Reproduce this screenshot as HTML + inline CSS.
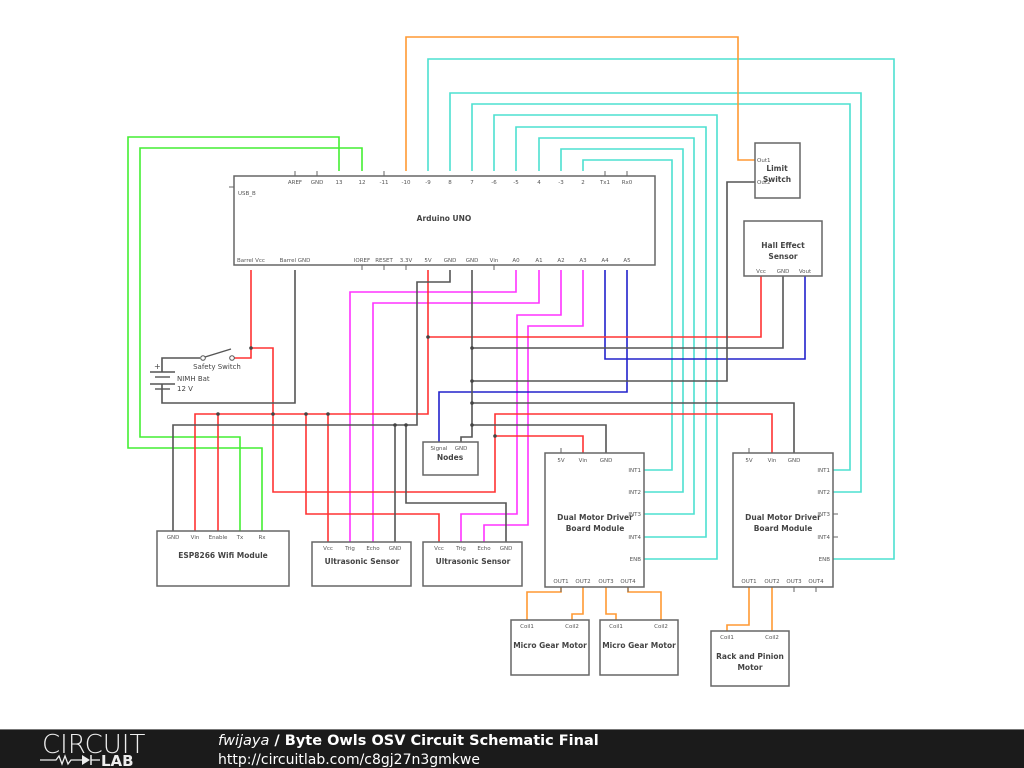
<!DOCTYPE html>
<html><head><meta charset="utf-8"><style>
html,body{margin:0;padding:0;background:#fff;}
svg{display:block}
text{font-family:"DejaVu Sans","Liberation Sans",sans-serif;}
.p{font-size:5.5px;fill:#555;text-anchor:middle}
.t{font-size:7.5px;font-weight:bold;fill:#444;text-anchor:middle}
.b{fill:none;stroke:#666;stroke-width:1.5}
.g{fill:none;stroke:#555;stroke-width:1.6}
.r{fill:none;stroke:#f33;stroke-width:1.6}
.m{fill:none;stroke:#f3f;stroke-width:1.6}
.c{fill:none;stroke:#4de0d0;stroke-width:1.6}
.gr{fill:none;stroke:#4e3;stroke-width:1.6}
.bl{fill:none;stroke:#22c;stroke-width:1.6}
.o{fill:none;stroke:#f93;stroke-width:1.6}
</style></head><body>
<svg width="1024" height="768" viewBox="0 0 1024 768" xmlns="http://www.w3.org/2000/svg">
<rect width="1024" height="768" fill="#fff"/>
<polyline class="c" points="428,171 428,59 894,59 894,559 833,559"/>
<polyline class="c" points="450,171 450,93 861,93 861,492 833,492"/>
<polyline class="c" points="472,171 472,104 850,104 850,470 833,470"/>
<polyline class="c" points="494,171 494,115 717,115 717,559 644,559"/>
<polyline class="c" points="516,171 516,127 706,127 706,537 644,537"/>
<polyline class="c" points="539,171 539,138 694,138 694,514 644,514"/>
<polyline class="c" points="561,171 561,149 683,149 683,492 644,492"/>
<polyline class="c" points="583,171 583,160 672,160 672,470 644,470"/>
<polyline class="o" points="406,171 406,37 738,37 738,160 755,160"/>
<polyline class="o" points="561,587 561,592 527,592 527,620"/>
<polyline class="o" points="583,587 583,614 572,614 572,620"/>
<polyline class="o" points="606,587 606,614 616,614 616,620"/>
<polyline class="o" points="628,587 628,592 661,592 661,620"/>
<polyline class="o" points="749,587 749,625 727,625 727,631"/>
<polyline class="o" points="772,587 772,631"/>
<polyline class="gr" points="339,171 339,137 128,137 128,448 262,448 262,531"/>
<polyline class="gr" points="362,171 362,148 140,148 140,437 240,437 240,531"/>
<polyline class="m" points="516,270 516,292 350,292 350,542"/>
<polyline class="m" points="539,270 539,303 373,303 373,542"/>
<polyline class="m" points="561,270 561,315 517,315 517,514 461,514 461,542"/>
<polyline class="m" points="583,270 583,326 528,326 528,525 484,525 484,542"/>
<polyline class="bl" points="605,270 605,359 805,359 805,276"/>
<polyline class="bl" points="627,270 627,392 439,392 439,442"/>
<polyline class="r" points="251,270 251,358 234,358"/>
<polyline class="r" points="251,348 273,348 273,492 495,492 495,414 772,414 772,453"/>
<polyline class="r" points="495,436 583,436 583,453"/>
<polyline class="r" points="428,270 428,414 195,414 195,531"/>
<polyline class="r" points="218,414 218,531"/>
<polyline class="r" points="328,414 328,542"/>
<polyline class="r" points="306,414 306,514 439,514 439,542"/>
<polyline class="r" points="428,337 761,337 761,276"/>
<polyline class="g" points="295,270 295,403 162,403 162,384"/>
<polyline class="g" points="162,372 162,358 200,358"/>
<polyline class="g" points="450,270 450,282 417,282 417,425 173,425 173,531"/>
<polyline class="g" points="395,425 395,542"/>
<polyline class="g" points="406,425 406,503 506,503 506,542"/>
<polyline class="g" points="472,270 472,437 461,437 461,442"/>
<polyline class="g" points="472,348 783,348 783,276"/>
<polyline class="g" points="472,381 727,381 727,182 755,182"/>
<polyline class="g" points="472,403 794,403 794,453"/>
<polyline class="g" points="472,425 606,425 606,453"/>
<g fill="#444">
<circle cx="251" cy="348" r="1.8"/><circle cx="218" cy="414" r="1.8"/><circle cx="306" cy="414" r="1.8"/><circle cx="328" cy="414" r="1.8"/>
<circle cx="273" cy="414" r="1.8"/><circle cx="395" cy="425" r="1.8"/><circle cx="406" cy="425" r="1.8"/><circle cx="428" cy="337" r="1.8"/>
<circle cx="472" cy="348" r="1.8"/><circle cx="472" cy="381" r="1.8"/><circle cx="472" cy="403" r="1.8"/><circle cx="472" cy="425" r="1.8"/>
<circle cx="495" cy="436" r="1.8"/>
</g>
<g stroke="#555" stroke-width="1.4">
<line x1="150" y1="372" x2="175" y2="372"/><line x1="155" y1="377" x2="170" y2="377"/>
<line x1="150" y1="384" x2="175" y2="384"/><line x1="155" y1="389" x2="170" y2="389"/>
<line x1="205" y1="357" x2="231" y2="349"/>
</g>
<circle cx="203" cy="358" r="2.3" fill="#fff" stroke="#555"/><circle cx="232" cy="358" r="2.3" fill="#fff" stroke="#555"/>
<text x="154" y="369" style="font-size:8px;fill:#444">+</text>
<text x="217" y="369" class="t" style="font-weight:normal;font-size:7px">Safety Switch</text>
<text x="177" y="381" style="font-size:7px;fill:#444">NIMH Bat</text>
<text x="177" y="391" style="font-size:7px;fill:#444">12 V</text>
<rect x="234" y="176" width="421" height="89" class="b" fill="#fff"/>
<line x1="229" y1="187" x2="234" y2="187" stroke="#666"/>
<text x="238" y="195" class="p" style="text-anchor:start">USB_B</text>
<text x="444" y="221" class="t">Arduino UNO</text>
<g stroke="#666">
<line x1="295" y1="171" x2="295" y2="176"/><line x1="317" y1="171" x2="317" y2="176"/><line x1="384" y1="171" x2="384" y2="176"/><line x1="605" y1="171" x2="605" y2="176"/><line x1="627" y1="171" x2="627" y2="176"/>
<line x1="362" y1="265" x2="362" y2="270"/><line x1="384" y1="265" x2="384" y2="270"/><line x1="406" y1="265" x2="406" y2="270"/><line x1="494" y1="265" x2="494" y2="270"/>
</g>
<g class="p">
<text x="295" y="184">AREF</text><text x="317" y="184">GND</text><text x="339" y="184">13</text><text x="362" y="184">12</text><text x="384" y="184">-11</text><text x="406" y="184">-10</text><text x="428" y="184">-9</text><text x="450" y="184">8</text><text x="472" y="184">7</text><text x="494" y="184">-6</text><text x="516" y="184">-5</text><text x="539" y="184">4</text><text x="561" y="184">-3</text><text x="583" y="184">2</text><text x="605" y="184">Tx1</text><text x="627" y="184">Rx0</text>
<text x="251" y="262">Barrel Vcc</text><text x="295" y="262">Barrel GND</text><text x="362" y="262">IOREF</text><text x="384" y="262">RESET</text><text x="406" y="262">3.3V</text><text x="428" y="262">5V</text><text x="450" y="262">GND</text><text x="472" y="262">GND</text><text x="494" y="262">Vin</text><text x="516" y="262">A0</text><text x="539" y="262">A1</text><text x="561" y="262">A2</text><text x="583" y="262">A3</text><text x="605" y="262">A4</text><text x="627" y="262">A5</text>
</g>
<rect x="755" y="143" width="45" height="55" class="b" fill="#fff"/>
<text x="757" y="162" class="p" style="text-anchor:start">Out1</text><text x="757" y="184" class="p" style="text-anchor:start">Out2</text>
<text x="777" y="171" class="t">Limit</text><text x="777" y="182" class="t">Switch</text>
<rect x="744" y="221" width="78" height="55" class="b" fill="#fff"/>
<text x="783" y="248" class="t">Hall Effect</text><text x="783" y="259" class="t">Sensor</text>
<text x="761" y="273" class="p">Vcc</text><text x="783" y="273" class="p">GND</text><text x="805" y="273" class="p">Vout</text>
<rect x="157" y="531" width="132" height="55" class="b" fill="#fff"/>
<g class="p"><text x="173" y="539">GND</text><text x="195" y="539">Vin</text><text x="218" y="539">Enable</text><text x="240" y="539">Tx</text><text x="262" y="539">Rx</text></g>
<text x="223" y="558" class="t">ESP8266 Wifi Module</text>
<rect x="312" y="542" width="99" height="44" class="b" fill="#fff"/>
<g class="p"><text x="328" y="550">Vcc</text><text x="350" y="550">Trig</text><text x="373" y="550">Echo</text><text x="395" y="550">GND</text></g>
<text x="362" y="564" class="t">Ultrasonic Sensor</text>
<rect x="423" y="542" width="99" height="44" class="b" fill="#fff"/>
<g class="p"><text x="439" y="550">Vcc</text><text x="461" y="550">Trig</text><text x="484" y="550">Echo</text><text x="506" y="550">GND</text></g>
<text x="473" y="564" class="t">Ultrasonic Sensor</text>
<rect x="423" y="442" width="55" height="33" class="b" fill="#fff"/>
<text x="439" y="450" class="p">Signal</text><text x="461" y="450" class="p">GND</text>
<text x="450" y="460" class="t">Nodes</text>
<rect x="545" y="453" width="99" height="134" class="b" fill="#fff"/>
<g stroke="#666"><line x1="561" y1="448" x2="561" y2="453"/><line x1="561" y1="587" x2="561" y2="592"/><line x1="628" y1="587" x2="628" y2="592"/></g>
<g class="p"><text x="561" y="462">5V</text><text x="583" y="462">Vin</text><text x="606" y="462">GND</text>
<text x="641" y="472" style="text-anchor:end">INT1</text><text x="641" y="494" style="text-anchor:end">INT2</text><text x="641" y="516" style="text-anchor:end">INT3</text><text x="641" y="539" style="text-anchor:end">INT4</text><text x="641" y="561" style="text-anchor:end">ENB</text>
<text x="561" y="583">OUT1</text><text x="583" y="583">OUT2</text><text x="606" y="583">OUT3</text><text x="628" y="583">OUT4</text></g>
<text x="595" y="520" class="t">Dual Motor Driver</text><text x="595" y="531" class="t">Board Module</text>
<rect x="733" y="453" width="100" height="134" class="b" fill="#fff"/>
<g stroke="#666"><line x1="749" y1="448" x2="749" y2="453"/><line x1="833" y1="514" x2="838" y2="514"/><line x1="833" y1="537" x2="838" y2="537"/><line x1="794" y1="587" x2="794" y2="592"/><line x1="816" y1="587" x2="816" y2="592"/></g>
<g class="p"><text x="749" y="462">5V</text><text x="772" y="462">Vin</text><text x="794" y="462">GND</text>
<text x="830" y="472" style="text-anchor:end">INT1</text><text x="830" y="494" style="text-anchor:end">INT2</text><text x="830" y="516" style="text-anchor:end">INT3</text><text x="830" y="539" style="text-anchor:end">INT4</text><text x="830" y="561" style="text-anchor:end">ENB</text>
<text x="749" y="583">OUT1</text><text x="772" y="583">OUT2</text><text x="794" y="583">OUT3</text><text x="816" y="583">OUT4</text></g>
<text x="783" y="520" class="t">Dual Motor Driver</text><text x="783" y="531" class="t">Board Module</text>
<rect x="511" y="620" width="78" height="55" class="b" fill="#fff"/>
<text x="527" y="628" class="p">Coil1</text><text x="572" y="628" class="p">Coil2</text>
<text x="550" y="648" class="t">Micro Gear Motor</text>
<rect x="600" y="620" width="78" height="55" class="b" fill="#fff"/>
<text x="616" y="628" class="p">Coil1</text><text x="661" y="628" class="p">Coil2</text>
<text x="639" y="648" class="t">Micro Gear Motor</text>
<rect x="711" y="631" width="78" height="55" class="b" fill="#fff"/>
<text x="727" y="639" class="p">Coil1</text><text x="772" y="639" class="p">Coil2</text>
<text x="750" y="659" class="t">Rack and Pinion</text><text x="750" y="670" class="t">Motor</text>
<rect x="0" y="729" width="1024" height="39" fill="#1b1b1b"/>
<line x1="0" y1="729.5" x2="1024" y2="729.5" stroke="#777"/>
<text x="42" y="753" style="font-size:26px;fill:#eee;font-family:'DejaVu Sans',sans-serif;font-weight:200">CIRCUIT</text>
<polyline points="40,760 56,760 59,756 62,764 65,756 68,764 71,760 82,760" fill="none" stroke="#eee" stroke-width="1.3"/>
<polygon points="82,755 82,765 90,760" fill="#eee"/><line x1="91" y1="755" x2="91" y2="765" stroke="#eee" stroke-width="1.5"/>
<line x1="91" y1="760" x2="100" y2="760" stroke="#eee" stroke-width="1.3"/>
<text x="101" y="766" style="font-size:15px;fill:#eee;font-weight:bold">LAB</text>
<text x="218" y="745" style="font-size:14.5px;fill:#fff;font-weight:bold"><tspan style="font-style:italic;font-weight:normal">fwijaya</tspan> / Byte Owls OSV Circuit Schematic Final</text>
<text x="218" y="764" style="font-size:14px;fill:#fff">http://circuitlab.com/c8gj27n3gmkwe</text>
</svg>
</body></html>
